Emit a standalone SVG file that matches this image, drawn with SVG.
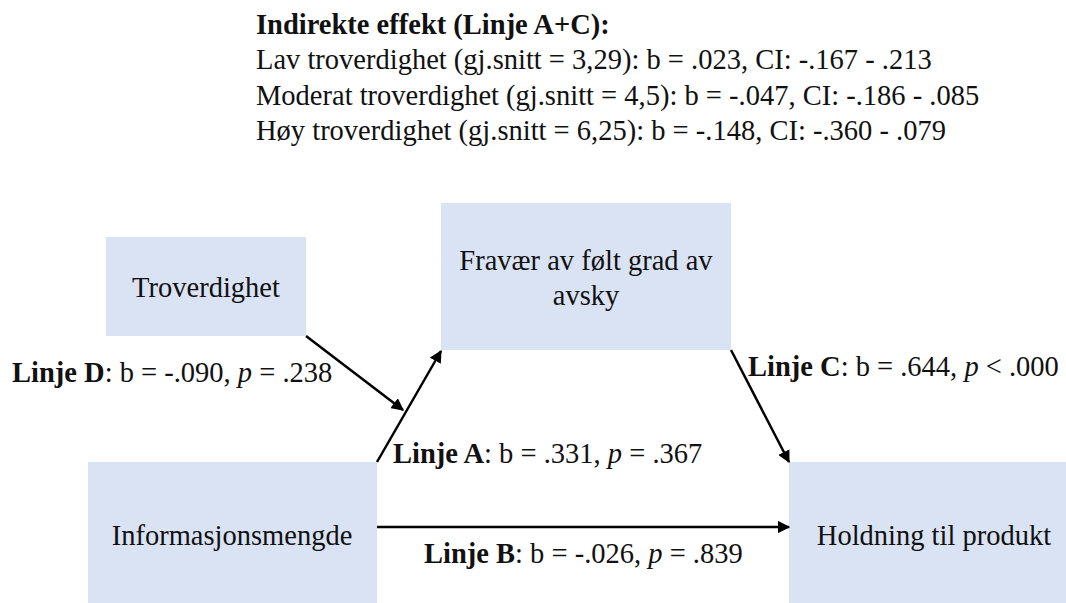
<svg xmlns="http://www.w3.org/2000/svg" width="1066" height="603" viewBox="0 0 1066 603">
<defs>
<style>
text{font-family:"Liberation Serif","Times New Roman",serif;font-size:28.5px;fill:#111}
.b{font-weight:bold}
.i{font-style:italic}
.box{fill:#dae3f3}
.ln{stroke:#000;stroke-width:2.5;fill:none}
</style>
<marker id="ah" viewBox="0 0 10 10" refX="9" refY="5" markerWidth="5" markerHeight="5" orient="auto" markerUnits="strokeWidth">
<path d="M0,0 L10,5 L0,10 z" fill="#000"/>
</marker>
</defs>
<rect width="1066" height="603" fill="#fff"/>
<g id="header">
<text x="256" y="34" class="b">Indirekte effekt (Linje A+C):</text>
<text x="256" y="69">Lav troverdighet (gj.snitt = 3,29): b = .023, CI: -.167 - .213</text>
<text x="256" y="105">Moderat troverdighet (gj.snitt = 4,5): b = -.047, CI: -.186 - .085</text>
<text x="256" y="140">Høy troverdighet (gj.snitt = 6,25): b = -.148, CI: -.360 - .079</text>
</g>
<g id="node-troverdighet">
<rect class="box" x="106" y="237" width="200" height="99"/>
<text x="206" y="297" text-anchor="middle">Troverdighet</text>
</g>
<g id="node-fravaer">
<rect class="box" x="441" y="203" width="290" height="147"/>
<text x="586" y="270" text-anchor="middle">Fravær av følt grad av</text>
<text x="586" y="305" text-anchor="middle">avsky</text>
</g>
<g id="node-informasjonsmengde">
<rect class="box" x="88" y="462" width="289" height="141"/>
<text x="232" y="545" text-anchor="middle">Informasjonsmengde</text>
</g>
<g id="node-holdning">
<rect class="box" x="789" y="462" width="277" height="141"/>
<text x="934" y="545" text-anchor="middle">Holdning til produkt</text>
</g>
<g id="connectors">
<line class="ln" x1="306" y1="336" x2="403" y2="410" marker-end="url(#ah)"/>
<line class="ln" x1="377" y1="462" x2="441" y2="351" marker-end="url(#ah)"/>
<line class="ln" x1="731" y1="350" x2="789" y2="462" marker-end="url(#ah)"/>
<line class="ln" x1="377" y1="527" x2="789" y2="527" marker-end="url(#ah)"/>
</g>
<g id="labels">
<text x="12" y="382"><tspan class="b">Linje D</tspan>: b = -.090, <tspan class="i">p</tspan> = .238</text>
<text x="393" y="463"><tspan class="b">Linje A</tspan>: b = .331, <tspan class="i">p</tspan> = .367</text>
<text x="748" y="376"><tspan class="b">Linje C</tspan>: b = .644, <tspan class="i">p</tspan> &lt; .000</text>
<text x="424" y="563"><tspan class="b">Linje B</tspan>: b = -.026, <tspan class="i">p</tspan> = .839</text>
</g>
</svg>
